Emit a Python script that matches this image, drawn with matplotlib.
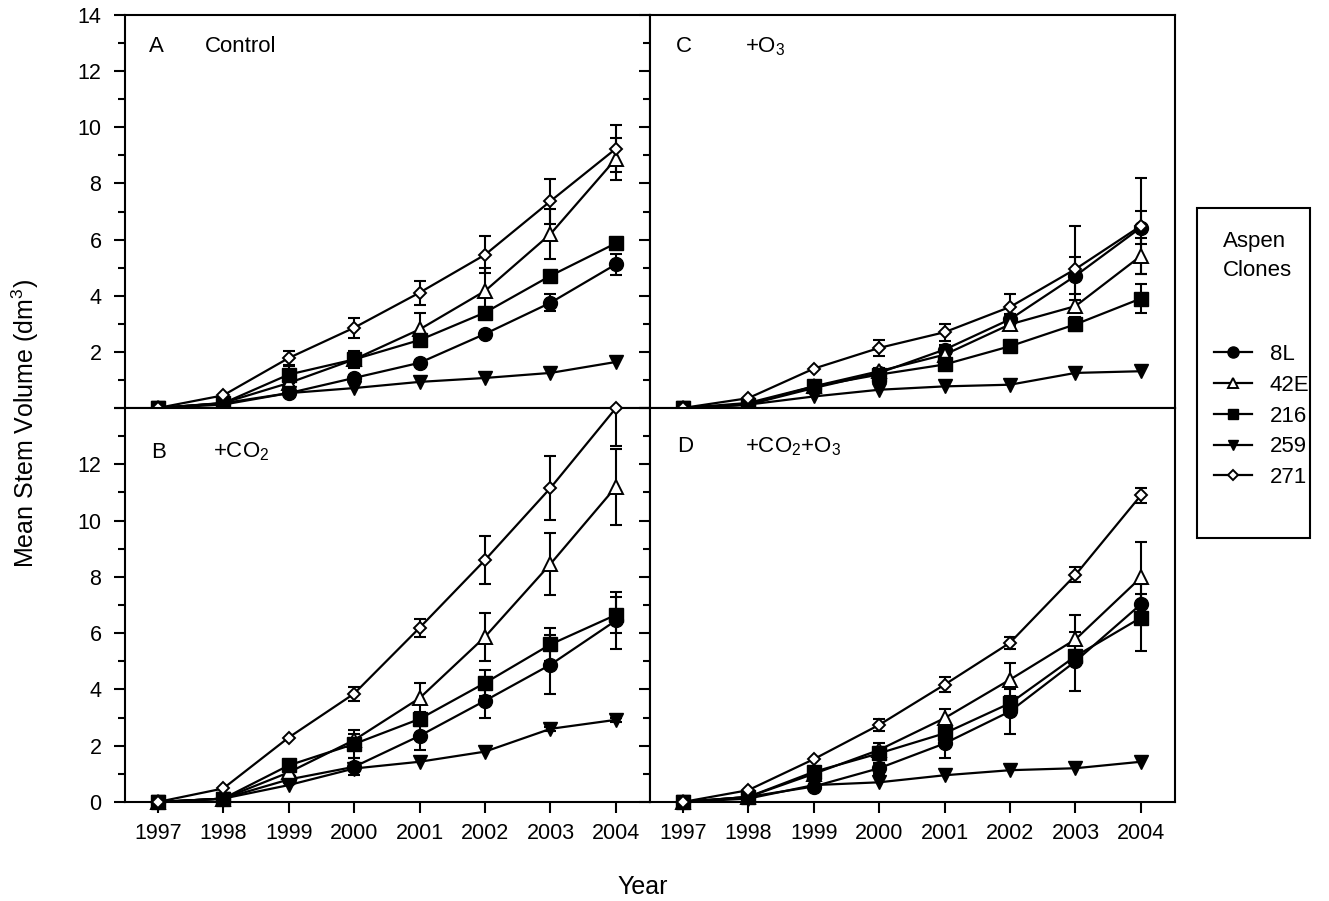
import matplotlib
matplotlib.use("Agg")
import matplotlib.pyplot as plt
from matplotlib.ticker import MultipleLocator, FuncFormatter
from matplotlib.lines import Line2D
from matplotlib.patches import Rectangle
import numpy as np

plt.rcParams['font.family'] = ['Liberation Sans', 'DejaVu Sans']
plt.rcParams['mathtext.fontset'] = 'custom'
plt.rcParams['mathtext.rm'] = 'Liberation Sans'
plt.rcParams['mathtext.it'] = 'Liberation Sans:italic'
plt.rcParams['mathtext.bf'] = 'Liberation Sans:bold'

years = [1997, 1998, 1999, 2000, 2001, 2002, 2003, 2004]
clones = ['8L', '42E', '216', '259', '271']

# Panel A: Control
A_8L = [0, 0.17, 0.53, 1.07, 1.61, 2.64, 3.75, 5.12]
A_8L_err = [0, 0, 0.05, 0.10, 0.10, 0.10, 0.30, 0.37]
A_42E = [0, 0.18, 0.89, 1.73, 2.80, 4.17, 6.20, 8.88]
A_42E_err = [0, 0, 0.10, 0.10, 0.60, 0.83, 0.90, 0.75]
A_216 = [0, 0.17, 1.19, 1.73, 2.42, 3.40, 4.71, 5.87]
A_216_err = [0, 0, 0.30, 0.30, 0.10, 0.10, 0.15, 0.15]
A_259 = [0, 0.12, 0.53, 0.71, 0.93, 1.07, 1.25, 1.64]
A_259_err = [0, 0, 0.03, 0.03, 0.05, 0.05, 0.05, 0.05]
A_271 = [0, 0.45, 1.78, 2.86, 4.11, 5.46, 7.37, 9.24]
A_271_err = [0, 0.05, 0.25, 0.35, 0.43, 0.65, 0.80, 0.85]

# Panel B: +CO2
B_8L = [0, 0.12, 0.80, 1.25, 2.35, 3.60, 4.88, 6.45]
B_8L_err = [0, 0, 0.10, 0.30, 0.50, 0.60, 1.05, 1.00]
B_42E = [0, 0.12, 1.05, 2.20, 3.69, 5.87, 8.46, 11.20]
B_42E_err = [0, 0, 0.10, 0.20, 0.55, 0.85, 1.10, 1.35]
B_216 = [0, 0.12, 1.30, 2.06, 2.95, 4.23, 5.60, 6.65]
B_216_err = [0, 0, 0.10, 0.50, 0.25, 0.45, 0.60, 0.65]
B_259 = [0, 0.12, 0.60, 1.19, 1.43, 1.79, 2.60, 2.92]
B_259_err = [0, 0, 0.03, 0.05, 0.05, 0.05, 0.08, 0.08]
B_271 = [0, 0.48, 2.29, 3.85, 6.19, 8.60, 11.16, 14.0]
B_271_err = [0, 0, 0.05, 0.25, 0.33, 0.85, 1.15, 1.35]

# Panel C: +O3
C_8L = [0, 0.12, 0.71, 1.25, 2.08, 3.16, 4.71, 6.43]
C_8L_err = [0, 0, 0.05, 0.10, 0.15, 0.20, 0.66, 0.60]
C_42E = [0, 0.18, 0.77, 1.31, 1.90, 2.98, 3.63, 5.42]
C_42E_err = [0, 0, 0.05, 0.10, 0.10, 0.10, 0.20, 0.65]
C_216 = [0, 0.12, 0.77, 1.19, 1.55, 2.20, 2.98, 3.90]
C_216_err = [0, 0, 0.05, 0.10, 0.10, 0.10, 0.25, 0.53]
C_259 = [0, 0.12, 0.41, 0.65, 0.77, 0.83, 1.25, 1.31]
C_259_err = [0, 0, 0.03, 0.03, 0.03, 0.05, 0.05, 0.05]
C_271 = [0, 0.35, 1.40, 2.14, 2.70, 3.60, 4.95, 6.49]
C_271_err = [0, 0, 0.05, 0.30, 0.30, 0.45, 1.55, 1.70]

# Panel D: +CO2+O3
D_8L = [0, 0.18, 0.55, 1.20, 2.08, 3.22, 5.00, 7.03]
D_8L_err = [0, 0, 0.05, 0.20, 0.50, 0.80, 1.05, 0.36]
D_42E = [0, 0.18, 1.00, 1.85, 2.98, 4.35, 5.78, 7.98]
D_42E_err = [0, 0, 0.05, 0.10, 0.33, 0.60, 0.85, 1.25]
D_216 = [0, 0.18, 1.07, 1.73, 2.44, 3.51, 5.18, 6.55]
D_216_err = [0, 0, 0.10, 0.35, 0.15, 0.20, 0.20, 1.20]
D_259 = [0, 0.12, 0.60, 0.70, 0.95, 1.13, 1.20, 1.43]
D_259_err = [0, 0, 0.03, 0.03, 0.05, 0.05, 0.05, 0.05]
D_271 = [0, 0.42, 1.52, 2.74, 4.17, 5.66, 8.07, 10.90]
D_271_err = [0, 0, 0.05, 0.20, 0.27, 0.22, 0.27, 0.27]

panel_letters = ['A', 'B', 'C', 'D']
panel_titles = ['Control', '+CO$_2$', '+O$_3$', '+CO$_2$+O$_3$']

panels = {
    'A': ([A_8L, A_42E, A_216, A_259, A_271], [A_8L_err, A_42E_err, A_216_err, A_259_err, A_271_err]),
    'B': ([B_8L, B_42E, B_216, B_259, B_271], [B_8L_err, B_42E_err, B_216_err, B_259_err, B_271_err]),
    'C': ([C_8L, C_42E, C_216, C_259, C_271], [C_8L_err, C_42E_err, C_216_err, C_259_err, C_271_err]),
    'D': ([D_8L, D_42E, D_216, D_259, D_271], [D_8L_err, D_42E_err, D_216_err, D_259_err, D_271_err]),
}

styles = [
    dict(marker='o', markersize=10, markerfacecolor='black', markeredgecolor='black'),
    dict(marker='^', markersize=9.5, markerfacecolor='white', markeredgecolor='black', markeredgewidth=1.4),
    dict(marker='s', markersize=9.5, markerfacecolor='black', markeredgecolor='black'),
    dict(marker='v', markersize=9.5, markerfacecolor='black', markeredgecolor='black'),
    dict(marker='D', markersize=6.5, markerfacecolor='white', markeredgecolor='black', markeredgewidth=1.4),
]

W, H = 1329, 901
fig = plt.figure(figsize=(W / 100, H / 100), dpi=100)

TICK_FS = 15.5
TEXT_FS = 16

def frac_rect(left, top, right, bottom):
    return [left / W, (H - bottom) / H, (right - left) / W, (bottom - top) / H]

rects = {
    'A': frac_rect(125, 15, 650, 408),
    'B': frac_rect(125, 408, 650, 802),
    'C': frac_rect(650, 15, 1175, 408),
    'D': frac_rect(650, 408, 1175, 802),
}
text_pos = {
    'A': ((156 - 125) / 525, 1 - (47 - 15) / 393, (205 - 125) / 525),
    'B': ((159 - 125) / 525, 1 - (452 - 408) / 394, (213 - 125) / 525),
    'C': ((684 - 650) / 525, 1 - (47 - 15) / 393, (745 - 650) / 525),
    'D': ((685 - 650) / 525, 1 - (447 - 408) / 394, (745 - 650) / 525),
}

for letter, title in zip(panel_letters, panel_titles):
    ax = fig.add_axes(rects[letter])
    vals, errs = panels[letter]
    for i, (v, e) in enumerate(zip(vals, errs)):
        v = np.asarray(v, float)
        e = np.asarray(e, float)
        x = np.asarray(years, float)
        m = e > 0.06
        if m.any():
            ax.errorbar(x[m], v[m], yerr=e[m], fmt='none', ecolor='black',
                        elinewidth=1.5, capsize=4.5, capthick=1.5, zorder=2)
        ax.plot(x, v, color='black', linewidth=1.6, clip_on=False,
                zorder=3 + i, **styles[i])
    ax.set_xlim(1996.5, 2004.52)
    ax.set_ylim(0, 14)
    ax.set_xticks(years)
    ax.yaxis.set_major_locator(MultipleLocator(2))
    ax.yaxis.set_minor_locator(MultipleLocator(1))
    ax.tick_params(axis='both', which='major', direction='out', length=8, width=1.5,
                   labelsize=TICK_FS, top=False, right=False)
    ax.tick_params(axis='y', which='minor', direction='out', length=5, width=1.5,
                   right=False)
    ax.tick_params(axis='y', pad=9)
    ax.tick_params(axis='x', pad=7)
    for s in ax.spines.values():
        s.set_linewidth(1.5)
    top_row = letter in ('A', 'C')
    left_col = letter in ('A', 'B')
    if top_row:
        ax.tick_params(axis='x', labelbottom=False)
        ax.yaxis.set_major_formatter(FuncFormatter(lambda y, p: '' if y < 1 else f'{y:.0f}'))
    else:
        ax.yaxis.set_major_formatter(FuncFormatter(lambda y, p: '' if y > 13 else f'{y:.0f}'))
    if not left_col:
        ax.tick_params(axis='y', labelleft=False)
    lx, ly, tx = text_pos[letter]
    ax.text(lx, ly, letter, transform=ax.transAxes, ha='center', va='center', fontsize=TEXT_FS)
    ax.text(tx, ly, title, transform=ax.transAxes, ha='left', va='center', fontsize=TEXT_FS)

fig.text(25 / W, (H - 423) / H, 'Mean Stem Volume (dm$^3$)', rotation=90,
         ha='center', va='center', fontsize=18)
fig.text(643 / W, (H - 887) / H, 'Year', ha='center', va='center', fontsize=18)

# Legend box
fig.patches.append(Rectangle((1197 / W, (H - 538) / H), (1310 - 1197) / W, (538 - 208) / H,
                             transform=fig.transFigure, fill=False, lw=1.5, edgecolor='black'))
fig.text(1223 / W, (H - 242) / H, 'Aspen', ha='left', va='center', fontsize=TEXT_FS)
fig.text(1223 / W, (H - 270) / H, 'Clones', ha='left', va='center', fontsize=TEXT_FS)
leg_handles = [Line2D([], [], color='black', linewidth=1.6,
                      **{**styles[i], 'markersize': styles[i]['markersize'] * 0.8})
               for i in range(5)]
fig.legend(leg_handles, clones, loc='upper left', bbox_to_anchor=(1214 / W, (H - 344) / H),
           frameon=False, fontsize=TEXT_FS, handlelength=1.7, handletextpad=0.8,
           labelspacing=0.44, borderpad=0, borderaxespad=0)

fig.savefig('out.png', dpi=100)
